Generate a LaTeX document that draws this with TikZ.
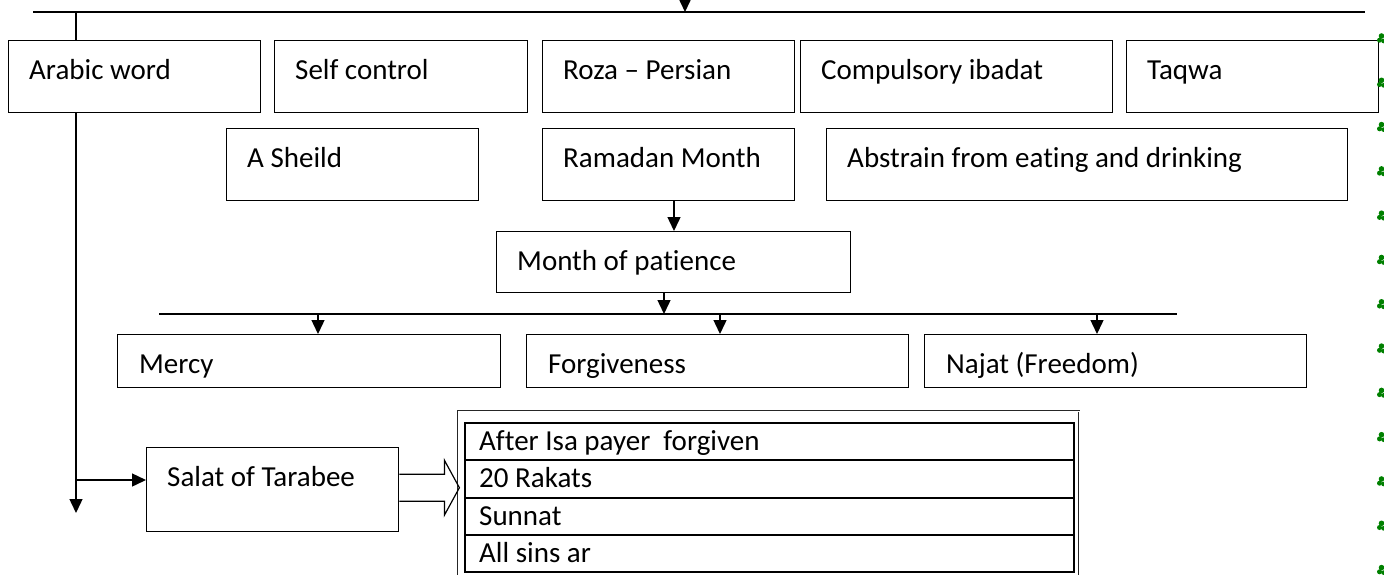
\documentclass[tikz,border=0pt]{standalone}
\usepackage{fontspec}
\setmainfont{Carlito}[Ligatures=NoCommon]
\usetikzlibrary{arrows.meta,calc}
\tikzset{
  box/.style={draw, line width=1.4pt, rectangle, inner sep=0pt, anchor=north west},
  rowbox/.style={draw, line width=2.2pt, rectangle, inner sep=0pt, anchor=north west},
  lbl/.style={anchor=base west, inner sep=0pt, font=\fontsize{29}{34}\selectfont},
  conn/.style={line width=1.4pt},
  arr/.style={line width=1.4pt, -{Triangle[length=14pt,width=13pt]}},
  hollowarrow/.style={line width=1.2pt, line join=miter},
  outerframe/.style={draw=black!85, line width=0.7pt, double, double distance=0.9pt},
  leaf/.style={fill=green!50!black, draw=none},
}
% name, x, y, width, height, text
\newcommand{\bx}[6]{%
  \node[box, minimum width=#4pt, minimum height=#5pt] (#1) at (#2,#3) {};
  \node[lbl] at ($(#1.north west)+(21,39)$) {#6};}
% same, with text clipped near the bottom
\newcommand{\bxclip}[6]{%
  \node[box, minimum width=#4pt, minimum height=#5pt] (#1) at (#2,#3) {};
  \begin{scope}
    \clip (#1.north west) rectangle ($(#1.south east)+(0,-10)$);
    \node[lbl] at ($(#1.north west)+(22,39)$) {#6};
  \end{scope}}
% table row: name, y, height, text
\newcommand{\trow}[4]{%
  \node[rowbox, minimum width=609pt, minimum height=#3pt] (#1) at (464,#2) {};
  \node[lbl] at ($(#1.north west)+(15,28)$) {#4};}
\begin{document}
\begin{tikzpicture}[x=1pt,y=-1pt]
\useasboundingbox (0,0) rectangle (1384,574);

% row 1
\bx{arabic}{8}{40}{252}{72}{Arabic word}
\bx{selfc}{274}{40}{253}{72}{Self control}
\bx{roza}{542}{40}{252}{72}{Roza -- Persian}
\bx{comp}{800}{40}{312}{72}{Compulsory ibadat}
\bx{taqwa}{1126}{40}{252}{72}{Taqwa}
% row 2
\bx{sheild}{226}{128}{252}{72}{A Sheild}
\bx{ramadan}{542}{128}{252}{72}{Ramadan Month}
\bx{abstrain}{826}{128}{521}{72}{Abstrain from eating and drinking}
% month
\bx{month}{496}{231}{354}{61}{Month of patience}
% row 3
\bxclip{mercy}{117}{334}{383}{53}{Mercy}
\bxclip{forg}{526}{334}{382}{53}{Forgiveness}
\bxclip{najat}{924}{334}{382}{53}{Najat (Freedom)}
% salat
\bx{salat}{146}{447}{252}{84}{Salat of Tarabee}

% table
\draw[outerframe] (458,600) -- (458,411) -- (1079,411) -- (1079,600);
\trow{r1}{422}{37}{After Isa payer\ \ forgiven}
\trow{r2}{459}{38}{20 Rakats}
\trow{r3}{497}{37}{Sunnat}
\trow{r4}{534}{37}{All sins ar}

% top line and arrow
\coordinate (tl) at (33,12);
\coordinate (tr) at (1365,12);
\coordinate (topsrc) at (685,-8);
\draw[conn] (tl) -- (tr);
\draw[arr] (topsrc) -- (topsrc |- tl);
\coordinate (aw) at (76,12);
\draw[conn] (aw) -- (aw |- arabic.north);

% left trunk
\coordinate (trunkend) at (76,513);
\coordinate (br) at (76,480);
\draw[arr] (trunkend |- arabic.south) -- (trunkend);
\draw[arr] (br) -- (br -| salat.west);

% Ramadan -> Month
\coordinate (rm) at (674,200);
\draw[arr] (rm) -- (rm |- month.north);

% Month -> line
\coordinate (ml) at (159,314);
\coordinate (mr) at (1177,314);
\coordinate (mo) at (664,292);
\draw[conn] (ml) -- (mr);
\draw[arr] (mo) -- (mo |- ml);

% line -> boxes
\coordinate (a1) at (318,314);
\coordinate (a2) at (720,314);
\coordinate (a3) at (1097,314);
\draw[arr] (a1) -- (a1 |- mercy.north);
\draw[arr] (a2) -- (a2 |- forg.north);
\draw[arr] (a3) -- (a3 |- najat.north);

% hollow block arrow salat -> table
\coordinate (ba) at ($(salat.east)+(0,-2)$);
\draw[hollowarrow] ($(ba)+(0,-13.5)$) -- ($(ba)+(45,-13.5)$) -- ($(ba)+(45,-27.5)$)
  -- ($(ba)+(60,0)$) -- ($(ba)+(45,27.5)$) -- ($(ba)+(45,13.5)$) -- ($(ba)+(0,13.5)$);

% green border marks
\foreach \k in {-1,...,12}{
  \pgfmathsetmacro{\yy}{38+44.3*\k}
  \fill[leaf] (1381.5,\yy-2) circle (2.8);
  \fill[leaf] (1379.5,\yy+2.2) circle (2.5);
  \fill[leaf] (1383.5,\yy+3) circle (2.3);
}
\end{tikzpicture}
\end{document}
